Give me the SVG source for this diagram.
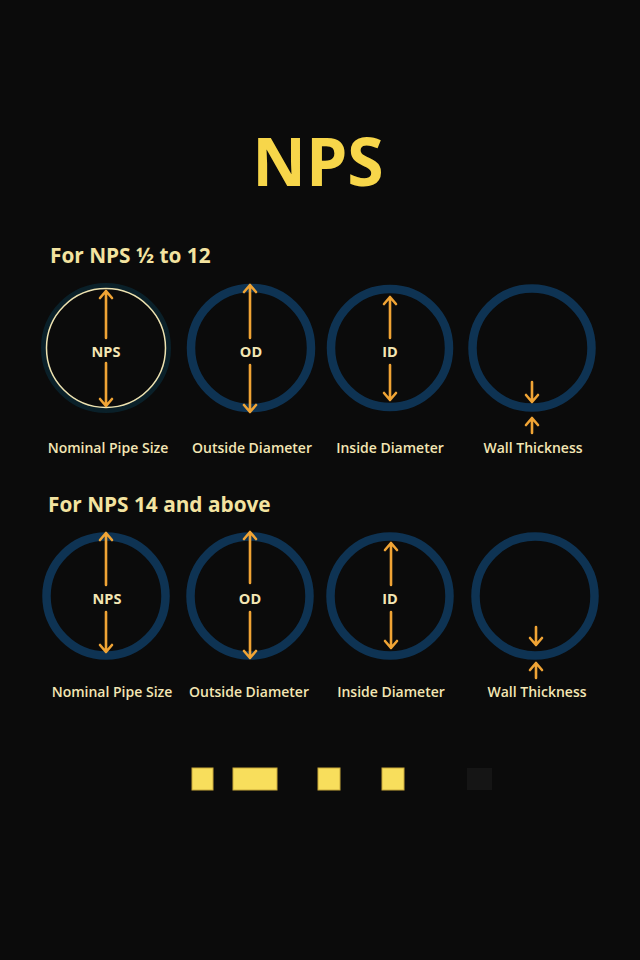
<svg xmlns="http://www.w3.org/2000/svg" width="640" height="960" viewBox="0 0 640 960">
<defs>
<style>
.bg{fill:#0b0b0b}
.title{font-family:"Open Sans","Liberation Sans",sans-serif;font-weight:700;fill:#f7d64a}
.hdr{font-family:"Open Sans","Liberation Sans",sans-serif;font-weight:700;font-size:20.8px;fill:#f3e3a0}
.lbl{font-family:"Open Sans","Liberation Sans",sans-serif;font-weight:600;font-size:14px;fill:#f3e6b4;text-anchor:middle}
.in{font-family:"Open Sans","Liberation Sans",sans-serif;font-weight:700;font-size:14.5px;fill:#f3e6b4;text-anchor:middle}
.ring{fill:none;stroke:#0e3353;stroke-width:8.5}
.arr{fill:none;stroke:#f0a435;stroke-width:2.6;stroke-linecap:round;stroke-linejoin:round}
.sq{fill:#f8de5c;stroke:#c9a93a;stroke-width:1}
</style>
</defs>
<rect class="bg" x="0" y="0" width="640" height="960"/>
<text class="title" x="318" y="186" font-size="66" text-anchor="middle">NPS</text>
<text class="hdr" x="50" y="263">For NPS ½ to 12</text>
<text class="hdr" x="48" y="512">For NPS 14 and above</text>

<g id="r1-nps">
<circle cx="106" cy="348" r="62" fill="none" stroke="#0a2029" stroke-width="6"/>
<circle cx="106" cy="348" r="59.5" fill="none" stroke="#eee2b0" stroke-width="1.5"/>
<text class="in" x="106" y="357">NPS</text>
</g>
<g id="r1-od">
<circle class="ring" cx="251" cy="348" r="60"/>
<text class="in" x="251" y="357">OD</text>
</g>
<g id="r1-id">
<circle class="ring" cx="390" cy="348" r="59"/>
<text class="in" x="390" y="357">ID</text>
</g>
<g id="r1-wt">
<circle class="ring" cx="532" cy="348" r="59.5"/>
</g>
<g id="r1-labels">
<text class="lbl" x="108" y="453">Nominal Pipe Size</text>
<text class="lbl" x="252" y="453">Outside Diameter</text>
<text class="lbl" x="390" y="453">Inside Diameter</text>
<text class="lbl" x="533" y="453">Wall Thickness</text>
</g>

<g id="r2-nps">
<circle class="ring" cx="106" cy="596" r="59.5"/>
<text class="in" x="107" y="604">NPS</text>
</g>
<g id="r2-od">
<circle class="ring" cx="250" cy="596" r="59.5"/>
<text class="in" x="250" y="604">OD</text>
</g>
<g id="r2-id">
<circle class="ring" cx="390" cy="596" r="59.5"/>
<text class="in" x="390" y="604">ID</text>
</g>
<g id="r2-wt">
<circle class="ring" cx="535" cy="596" r="59.5"/>
</g>
<g id="r2-labels">
<text class="lbl" x="112" y="697">Nominal Pipe Size</text>
<text class="lbl" x="249" y="697">Outside Diameter</text>
<text class="lbl" x="391" y="697">Inside Diameter</text>
<text class="lbl" x="537" y="697">Wall Thickness</text>
</g>

<g id="connectors" class="arr">
<path d="M106 291 V338 M100 298 L106 291 L112 298"/>
<path d="M106 363 V406 M100 399 L106 406 L112 399"/>
<path d="M250 285 V338 M244 292 L250 285 L256 292"/>
<path d="M250 365 V412 M244 405 L250 412 L256 405"/>
<path d="M390 297 V338 M384 304 L390 297 L396 304"/>
<path d="M390 365 V400 M384 393 L390 400 L396 393"/>
<path d="M532 382 V402 M526 395 L532 402 L538 395"/>
<path d="M532 418 V433 M526 425 L532 418 L538 425"/>
<path d="M106 533 V585 M100 540 L106 533 L112 540"/>
<path d="M106 612 V652 M100 645 L106 652 L112 645"/>
<path d="M250 532 V583 M244 539 L250 532 L256 539"/>
<path d="M250 612 V658 M244 651 L250 658 L256 651"/>
<path d="M391 543 V585 M385 550 L391 543 L397 550"/>
<path d="M391 612 V648 M385 641 L391 648 L397 641"/>
<path d="M536 627 V645 M530 638 L536 645 L542 638"/>
<path d="M536 663 V678 M530 670 L536 663 L542 670"/>
</g>

<g id="squares">
<rect class="sq" x="192" y="768" width="21" height="22"/>
<rect class="sq" x="233" y="768" width="44" height="22"/>
<rect class="sq" x="318" y="768" width="22" height="22"/>
<rect class="sq" x="382" y="768" width="22" height="22"/>
<rect x="467" y="768" width="25" height="22" fill="#151515"/>
</g>
</svg>
